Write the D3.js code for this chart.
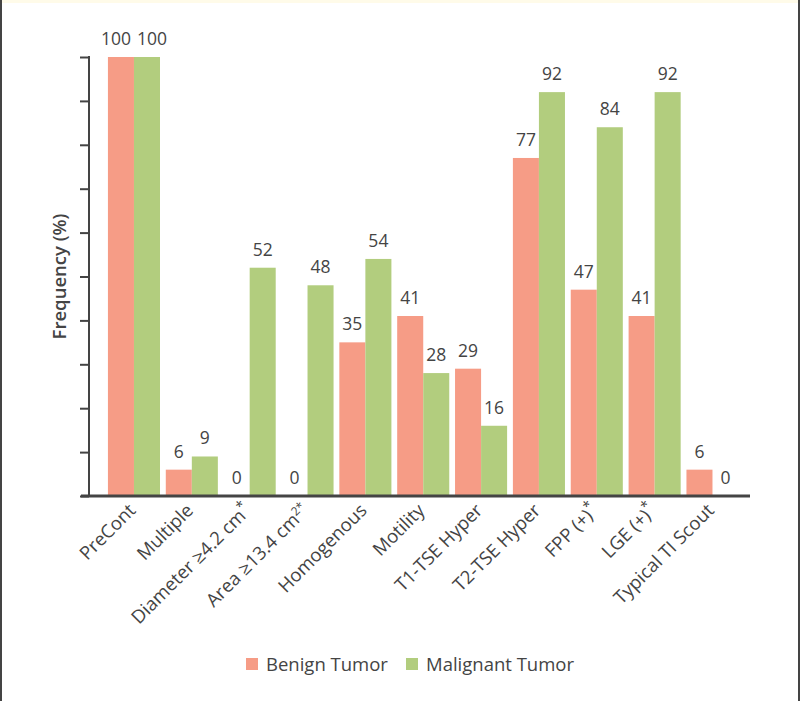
<!DOCTYPE html>
<html>
<head>
<meta charset="utf-8">
<script src="https://cdn.jsdelivr.net/npm/d3@7"></script>
<style>
  html, body { margin: 0; padding: 0; background: #fff; }
  svg text { font-family: "Open Sans", "Noto Sans", sans-serif; fill: #444; }
</style>
</head>
<body>
<div id="chart"></div>
<script>
// DATA
const categories = ["PreCont", "Multiple", "Diameter \u22654.2 cm*", "Area \u226513.4 cm\u00B2*", "Homogenous",
  "Motility", "T1-TSE Hyper", "T2-TSE Hyper", "FPP (+)*", "LGE (+)*", "Typical TI Scout"];
const benign = [100, 6, 0, 0, 35, 41, 29, 77, 47, 41, 6];
const malignant = [100, 9, 52, 48, 54, 28, 16, 92, 84, 92, 0];
const seriesNames = ["Benign Tumor", "Malignant Tumor"];
const yTicks = [0, 10, 20, 30, 40, 50, 60, 70, 80, 90, 100];

const benignColor = "#f69c86";
const malignantColor = "#b2cd7e";
const ink = "#444";

const width = 800, height = 701;

const svg = d3.select("#chart").append("svg")
  .attr("width", width)
  .attr("height", height);

// frame
svg.append("rect").attr("x", 0).attr("y", 0).attr("width", width).attr("height", 3).attr("fill", "#fffbe9");
svg.append("rect").attr("x", 0).attr("y", 0).attr("width", 2).attr("height", height).attr("fill", ink);
svg.append("rect").attr("x", 798).attr("y", 0).attr("width", 2).attr("height", height).attr("fill", ink);

const x = d3.scaleBand()
  .domain(categories)
  .range([102.15, 744.3])
  .paddingInner(0.1)
  .paddingOuter(0.1);

const xSub = d3.scaleBand()
  .domain(seriesNames)
  .range([0, x.bandwidth()]);

const y = d3.scaleLinear()
  .domain([0, 100])
  .range([496, 57]);

// y axis
const yAxis = d3.axisLeft(y)
  .tickValues(yTicks)
  .tickSize(9)
  .tickFormat("");

const gy = svg.append("g")
  .attr("transform", "translate(89,0)")
  .call(yAxis);
gy.select(".domain").remove();
gy.selectAll(".tick line").attr("stroke", ink).attr("stroke-width", 2);
gy.append("line")
  .attr("x1", 0).attr("x2", 0)
  .attr("y1", y(100) - 1).attr("y2", y(0))
  .attr("stroke", ink).attr("stroke-width", 2);

svg.append("text")
  .attr("transform", `translate(66,${(y(0) + y(100)) / 2}) rotate(-90)`)
  .attr("text-anchor", "middle")
  .style("font-size", "18.5px")
  .style("font-weight", 600)
  .text("Frequency (%)");

// bars
const rows = categories.map((c, i) => ({ cat: c, values: [benign[i], malignant[i]] }));

const groups = svg.append("g")
  .selectAll("g")
  .data(rows)
  .join("g")
  .attr("transform", d => `translate(${x(d.cat)},0)`);

groups.selectAll("rect")
  .data(d => d.values.map((v, j) => ({ key: seriesNames[j], v })))
  .join("rect")
  .attr("x", d => xSub(d.key))
  .attr("y", d => y(d.v))
  .attr("width", xSub.bandwidth())
  .attr("height", d => y(0) - y(d.v))
  .attr("fill", d => d.key === seriesNames[0] ? benignColor : malignantColor);

groups.each(function () {
  const g = d3.select(this);
  const labels = g.selectAll("text")
    .data(d => d.values.map((v, j) => ({ key: seriesNames[j], v })))
    .join("text")
    .attr("x", d => xSub(d.key) + xSub.bandwidth() / 2)
    .attr("y", d => y(d.v) - 12)
    .attr("text-anchor", "middle")
    .style("font-size", "17.5px")
    .text(d => d.v);

  // push the two labels apart when they sit at the same height and overlap
  const nodes = labels.nodes();
  const dy = Math.abs(y(nodes[0].__data__.v) - y(nodes[1].__data__.v));
  if (dy < 16) {
    const w0 = nodes[0].getComputedTextLength();
    const w1 = nodes[1].getComputedTextLength();
    const overlap = (w0 + w1) / 2 + 6 - xSub.bandwidth();
    if (overlap > 0) {
      d3.select(nodes[0]).attr("x", xSub.bandwidth() / 2 - overlap / 2);
      d3.select(nodes[1]).attr("x", xSub.bandwidth() * 1.5 + overlap / 2);
    }
  }
});

// x axis
svg.append("line")
  .attr("x1", 81).attr("x2", 750)
  .attr("y1", y(0)).attr("y2", y(0))
  .attr("stroke", ink).attr("stroke-width", 3);

const xAxis = d3.axisBottom(x).tickSize(0).tickFormat("");
const gx = svg.append("g")
  .attr("transform", `translate(0,${y(0)})`)
  .call(xAxis);
gx.select(".domain").remove();

gx.selectAll(".tick")
  .append("text")
  .attr("transform", "translate(0,13) rotate(-45)")
  .attr("text-anchor", "end")
  .attr("dy", "0.2em")
  .style("font-size", "18.5px")
  .style("fill", ink)
  .each(function (d) {
    const t = d3.select(this);
    const sup = (txt, size) => t.append("tspan").attr("dy", "-0.55em").style("font-size", size).text(txt);
    const m = d.match(/^(.*cm)(\u00B2)?(\*)$/);
    if (m) {
      t.append("tspan").text(m[1]);
      if (m[2]) sup("2*", "12px");
      else sup("*", "14px");
    } else if (d.endsWith("*")) {
      t.append("tspan").text(d.slice(0, -1));
      sup("*", "14px");
    } else {
      t.text(d);
    }
  });

// legend
const legend = svg.append("g").attr("transform", "translate(246,658)");
const legendX = [0, 160];
seriesNames.forEach((name, i) => {
  const g = legend.append("g").attr("transform", `translate(${legendX[i]},0)`);
  g.append("rect").attr("width", 12).attr("height", 12)
    .attr("fill", i === 0 ? benignColor : malignantColor);
  g.append("text").attr("x", 20).attr("y", 13)
    .style("font-size", "18.5px")
    .text(name);
});
</script>
</body>
</html>
